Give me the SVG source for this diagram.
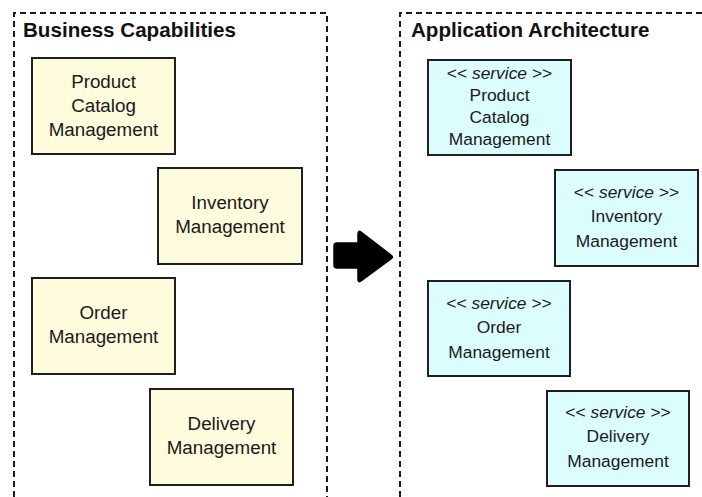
<svg xmlns="http://www.w3.org/2000/svg" width="702" height="497" viewBox="0 0 702 497">
  <style>
    .frame { fill: none; stroke: #1a1a1a; stroke-width: 2; stroke-dasharray: 6 4; }
    .title { font-family: "Liberation Sans", Arial, sans-serif; font-size: 20.6px; font-weight: bold; fill: #111; }
    .cap { fill: #fffbdd; stroke: #1f1f1f; stroke-width: 2; }
    .svc { fill: #dcfdfd; stroke: #1f1f1f; stroke-width: 2; }
    .label { font-family: "Liberation Sans", Arial, sans-serif; fill: #1a1a1a; text-anchor: middle; }
    .cap-label { font-size: 18.8px; }
    .svc-label { font-size: 17.4px; }
    .stereo { font-style: italic; }
  </style>
  <rect width="702" height="497" fill="#ffffff"/>

  <!-- left container -->
  <g id="business-capabilities">
    <path class="frame" d="M14,497 V13 H327 V497"/>
    <text class="title" x="23" y="37">Business Capabilities</text>
  </g>

  <!-- right container -->
  <g id="application-architecture">
    <path class="frame" d="M400,497 V13 H702"/>
    <text class="title" x="411" y="37">Application Architecture</text>
  </g>

  <!-- capability nodes -->
  <g id="cap-product-catalog">
    <rect class="cap" x="32" y="58" width="143" height="96"/>
    <text class="label cap-label" x="103.5" y="88">Product</text>
    <text class="label cap-label" x="103.5" y="112">Catalog</text>
    <text class="label cap-label" x="103.5" y="136">Management</text>
  </g>
  <g id="cap-inventory">
    <rect class="cap" x="158" y="168" width="144" height="96"/>
    <text class="label cap-label" x="230" y="209">Inventory</text>
    <text class="label cap-label" x="230" y="233">Management</text>
  </g>
  <g id="cap-order">
    <rect class="cap" x="32" y="278" width="143" height="96"/>
    <text class="label cap-label" x="103.5" y="319">Order</text>
    <text class="label cap-label" x="103.5" y="343">Management</text>
  </g>
  <g id="cap-delivery">
    <rect class="cap" x="150" y="389" width="143" height="96"/>
    <text class="label cap-label" x="221.5" y="430">Delivery</text>
    <text class="label cap-label" x="221.5" y="454">Management</text>
  </g>

  <!-- service nodes -->
  <g id="svc-product-catalog">
    <rect class="svc" x="428" y="60" width="143" height="95"/>
    <text class="label svc-label" x="499.5" y="79"><tspan>&lt;&lt; </tspan><tspan class="stereo">service</tspan><tspan> &gt;&gt;</tspan></text>
    <text class="label svc-label" x="499.5" y="101">Product</text>
    <text class="label svc-label" x="499.5" y="123">Catalog</text>
    <text class="label svc-label" x="499.5" y="145">Management</text>
  </g>
  <g id="svc-inventory">
    <rect class="svc" x="555" y="170" width="143" height="96"/>
    <text class="label svc-label" x="626.5" y="198"><tspan>&lt;&lt; </tspan><tspan class="stereo">service</tspan><tspan> &gt;&gt;</tspan></text>
    <text class="label svc-label" x="626.5" y="222">Inventory</text>
    <text class="label svc-label" x="626.5" y="247">Management</text>
  </g>
  <g id="svc-order">
    <rect class="svc" x="428" y="281" width="142" height="95"/>
    <text class="label svc-label" x="499" y="309"><tspan>&lt;&lt; </tspan><tspan class="stereo">service</tspan><tspan> &gt;&gt;</tspan></text>
    <text class="label svc-label" x="499" y="333">Order</text>
    <text class="label svc-label" x="499" y="358">Management</text>
  </g>
  <g id="svc-delivery">
    <rect class="svc" x="547" y="391" width="142" height="95"/>
    <text class="label svc-label" x="618" y="418"><tspan>&lt;&lt; </tspan><tspan class="stereo">service</tspan><tspan> &gt;&gt;</tspan></text>
    <text class="label svc-label" x="618" y="442">Delivery</text>
    <text class="label svc-label" x="618" y="467">Management</text>
  </g>

  <!-- connectors -->
  <g id="connectors">
    <path d="M337,243 H358 V234 Q358,230 361,232 L391,255 Q394,257 391,259 L361,281 Q358,283 358,279 V268 H337 Q334,268 334,265 V246 Q334,243 337,243 Z" fill="#000000" stroke="#000000" stroke-width="1.5" stroke-linejoin="round"/>
  </g>
</svg>
